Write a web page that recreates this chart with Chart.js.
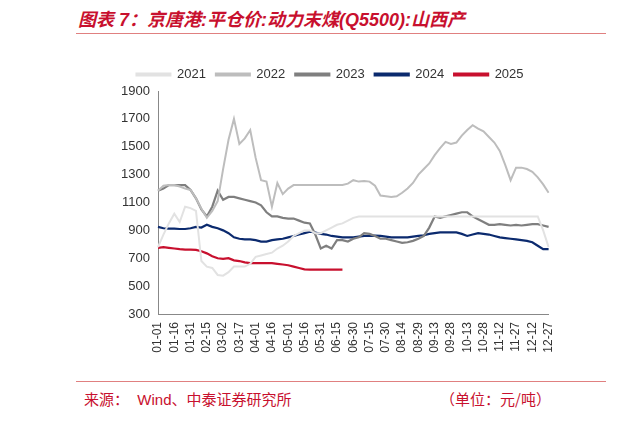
<!DOCTYPE html><html><head><meta charset="utf-8">
<script src="https://cdn.jsdelivr.net/npm/chart.js@4"></script>
<style>body{margin:0;width:640px;height:421px;background:#fff;position:relative;font-family:"Liberation Sans",Arial,sans-serif;overflow:hidden}
#t{position:absolute;left:78px;top:5px;color:#c8102e;font:italic bold 18px "Liberation Sans","Noto Sans CJK SC";}
#l1{position:absolute;left:76px;top:33px;width:530px;border-top:1px solid #e08080}
#l2{position:absolute;left:76px;top:381px;width:530px;border-top:1px solid #e08080}
#s{position:absolute;left:84px;top:388px;color:#c8102e;font:15px "Liberation Sans","Noto Sans CJK SC"}
#u{position:absolute;left:440px;top:388px;color:#c8102e;font:15px "Noto Sans CJK SC"}
#c{position:absolute;left:100px;top:58px;width:466px;height:312px}</style></head><body>
<div id="t">图表 7：京唐港:平仓价:动力末煤(Q5500):山西产</div><div id="l1"></div>
<div id="c"><canvas id="cv"></canvas></div>
<div id="l2"></div><div id="s">来源：&nbsp;&nbsp;Wind、中泰证券研究所</div><div id="u">（单位：元/吨）</div>
<script>
const tickLabels=["01-01","01-16","01-31","02-15","03-02","03-17","04-01","04-16","05-01","05-16","05-31","06-15","06-30","07-15","07-30","08-14","08-29","09-13","09-28","10-13","10-28","11-12","11-27","12-12","12-27"];
const s2021=[780,870,950,1020,960,1070,1060,1040,680,640,630,580,575,600,640,640,640,660,710,720,730,740,770,790,820,860,880,900,900,880,880,900,920,940,950,970,990,1000,1000,1000,1000,1000,1000,1000,1000,1000,1000,1000,1000,1000,1000,1000,1000,1000,1000,1000,1000,1000,1000,1000,1000,1000,1000,1000,1000,1000,1000,1000,1000,1000,1000,900,780];
const s2022=[1185,1220,1225,1225,1215,1200,1190,1130,1055,990,1040,1110,1340,1550,1700,1520,1560,1620,1420,1260,1250,1070,1240,1160,1200,1225,1225,1225,1225,1225,1225,1225,1225,1225,1225,1235,1260,1250,1255,1250,1220,1150,1145,1140,1145,1170,1200,1240,1300,1340,1380,1440,1490,1535,1520,1530,1580,1620,1655,1630,1610,1570,1530,1470,1370,1260,1350,1350,1340,1320,1280,1230,1170];
const s2023=[1185,1200,1225,1225,1225,1225,1190,1130,1050,1000,1070,1185,1120,1140,1140,1130,1120,1110,1100,1080,1030,1000,1000,990,985,985,970,955,950,870,770,790,770,830,830,820,840,850,880,875,860,840,840,830,820,810,815,825,840,860,920,1000,990,1000,1010,1020,1030,1030,1000,980,960,940,940,945,940,935,940,935,940,945,945,935,925];
const s2024=[925,915,912,912,910,910,915,925,920,940,925,915,900,880,850,840,835,835,830,820,820,830,835,840,850,860,870,880,890,885,875,870,860,855,850,850,850,855,860,860,862,860,855,850,850,850,850,855,860,865,875,880,885,885,885,885,875,860,870,880,875,870,860,850,845,840,835,830,825,815,790,765,765];
const s2025=[775,780,775,770,765,762,762,760,750,735,715,700,695,700,685,680,670,665,665,665,665,665,660,655,650,640,630,620,618,618,618,618,618,618,618];
const labels=[];for(let i=0;i<73;i++)labels.push(i%3===0?tickLabels[i/3]:"");
const ds=(l,d,c,w)=>({label:l,data:d,borderColor:c,backgroundColor:c,borderWidth:w,pointRadius:0,tension:0});
new Chart(document.getElementById('cv'),{type:'line',data:{labels,datasets:[ds('2021',s2021,'#e2e2e2',2),ds('2022',s2022,'#bdbdbd',2),ds('2023',s2023,'#7f7f7f',2.2),ds('2024',s2024,'#0b2a6e',2.2),ds('2025',s2025,'#c8102e',2.2)]},
options:{responsive:true,maintainAspectRatio:false,animation:false,layout:{padding:{right:6,top:0}},
plugins:{legend:{position:'top',labels:{boxWidth:34,boxHeight:2,color:'#333',font:{size:13,family:'Liberation Sans'},padding:10}},tooltip:{enabled:false}},
scales:{x:{grid:{display:false,drawTicks:true,tickLength:5},border:{color:'#888'},ticks:{autoSkip:false,maxRotation:90,minRotation:90,color:'#333',font:{size:12,family:'Liberation Sans'},callback:(v,i)=>labels[i]},
 afterFit(s){s.height=56}},
y:{min:300,max:1900,afterFit(s){s.width=58},grid:{display:false,tickLength:5},border:{color:'#888'},ticks:{stepSize:200,color:'#333',font:{size:13,family:'Liberation Sans'},callback:v=>String(v)}}}}});
</script></body></html>
